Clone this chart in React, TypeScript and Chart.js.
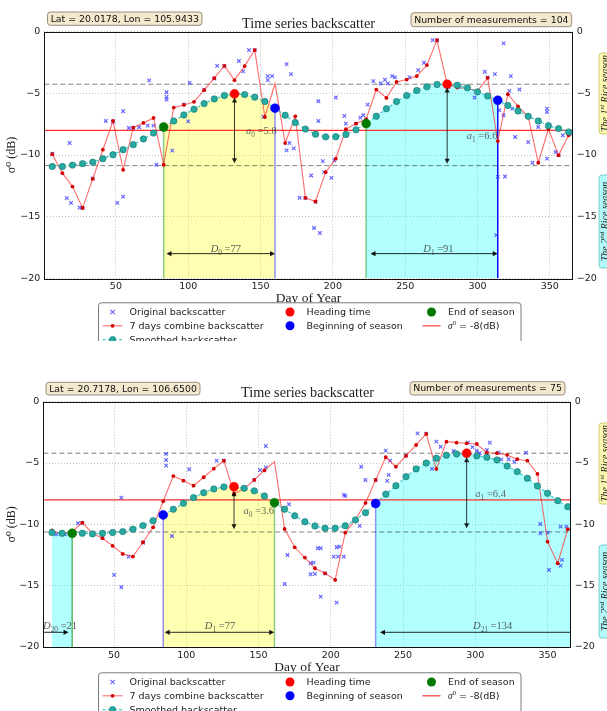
import React, { useEffect, useRef } from "react";
import { Chart, registerables } from "chart.js";

Chart.register(...registerables);

const SANS = "'DejaVu Sans', 'Noto Sans', sans-serif";
const SERIF = "'Liberation Serif', 'DejaVu Serif', serif";

// ---------- shared axis values ----------
const Y_MIN = -20;
const Y_MAX = 0;
const Y_STEP = 5;
const X_TICKS = [50, 100, 150, 200, 250, 300, 350];
const THRESHOLD_DB = -8;

const TITLE = "Time series backscatter";
const X_TITLE = "Day of Year";
const Y_TITLE = "σ⁰ (dB)";
const SEASON_TEXT_1 = ["The 1", "st", " Rice season"];
const SEASON_TEXT_2 = ["The 2", "nd", " Rice season"];
const LEGEND_LABELS = [
  "Original backscatter",
  "7 days combine backscatter",
  "Smoothed backscatter",
  "Heading time",
  "Beginning of season",
  "End of season",
  " = -8(dB)",
];

// ---------- panel A (top) ----------
const A_LAT_LON = "Lat = 20.0178, Lon = 105.9433";
const A_COUNT = "Number of measurements = 104";
const A_X_RANGE = [0.5, 365.8];
const A_DAYS = [6, 13, 20, 27, 34, 41, 48, 55, 62, 69, 76, 83, 90, 97, 104, 111, 118, 125, 132, 139, 146, 153, 160, 167, 174, 181, 188, 195, 202, 209, 216, 223, 230, 237, 244, 251, 258, 265, 272, 279, 286, 293, 300, 307, 314, 321, 328, 335, 342, 349, 356, 363];
const A_COMBINED = [-9.93, -11.47, -12.56, -14.29, -11.93, -9.57, -7.24, -11.2, -7.78, -7.4, -6.99, -10.79, -6.15, -5.94, -5.69, -4.74, -3.77, -2.77, -3.93, -2.79, -1.49, -6.92, -4.2, -9.03, -6.86, -13.47, -13.77, -11.39, -10.3, -7.9, -7.45, -7.1, -4.69, -5.37, -4.07, -3.88, -3.6, -2.71, -0.68, -4.26, -4.53, -4.61, -4.8, -3.74, -8.87, -5.07, -6.05, -6.86, -10.63, -7.89, -10.03, -8.4];
const A_SMOOTHED = [-10.93, -10.93, -10.82, -10.7, -10.58, -10.3, -9.98, -9.57, -9.16, -8.7, -8.22, -7.73, -7.24, -6.75, -6.29, -5.83, -5.45, -5.18, -5.04, -5.1, -5.31, -5.66, -6.2, -6.78, -7.37, -7.9, -8.32, -8.53, -8.52, -8.34, -7.96, -7.45, -6.86, -6.25, -5.66, -5.18, -4.77, -4.47, -4.28, -4.26, -4.34, -4.55, -4.88, -5.21, -5.56, -5.99, -6.43, -6.86, -7.24, -7.62, -7.86, -8.14];
const A_HIDDEN_DAY = 160;
const A_ORIG_DAYS = [18, 16, 19, 25, 43, 51, 55, 55, 59, 66, 72, 76, 73, 78, 85, 85, 85, 89, 101, 100, 120, 135, 138, 142, 155, 155, 158, 152, 168, 171, 168, 170, 173, 177, 185, 187, 191, 194, 199, 193, 201, 190, 208, 209, 219, 221, 224, 228, 233, 236, 238, 241, 243, 253, 259, 263, 269, 280, 287, 298, 305, 312, 318, 322, 323, 329, 315, 318, 326, 335, 324, 338, 342, 348, 348, 348, 354, 359, 364, 319, 314, 313, 202, 190, 6, 27, 34, 62, 97, 111, 118, 125, 146, 272, 307, 356, 181, 188, 216, 48];
const A_ORIG_VALUES = [-9.03, -13.5, -13.88, -14.26, -7.24, -13.88, -13.37, -6.45, -7.81, -7.75, -7.62, -7.62, -3.95, -10.79, -4.91, -5.29, -5.5, -9.65, -4.15, -7.27, -2.77, -2.38, -3.22, -1.49, -3.93, -3.6, -3.6, -6.9, -2.63, -3.44, -9.63, -9.03, -9.46, -13.47, -11.66, -15.92, -16.33, -11.39, -11.85, -10.5, -10.44, -7.24, -6.83, -7.45, -6.97, -6.78, -5.91, -4.01, -4.2, -3.9, -4.2, -3.6, -3.7, -3.71, -3.12, -2.52, -0.68, -4.47, -4.47, -5.34, -3.25, -3.44, -0.95, -4.8, -3.6, -4.69, -6.37, -6.78, -8.54, -8.95, -6.24, -10.63, -7.73, -6.24, -6.51, -10.3, -9.76, -8.4, -8.27, -11.74, -11.77, -16.5, -5.34, -5.64, -9.9, -14.3, -11.9, -7.8, -5.9, -4.7, -3.8, -2.8, -1.5, -0.7, -3.7, -10.0, -13.5, -13.8, -7.45, -7.3];
const A_HEADING_DAYS = [132, 279];
const A_HEADING_VALUES = [-5.04, -4.26];
const A_BOS_DAYS = [160, 314];
const A_BOS_VALUES = [-6.2, -5.56];
const A_EOS_DAYS = [83, 223];
const A_EOS_VALUES = [-7.73, -7.45];
const A_MAX_LEVEL = -4.26;
const A_MIN_LEVEL = -10.86;
const A_FILL_START = [83, 223];
const A_FILL_END = [160, 314];
const A_FILL_KIND = ["yellow", "cyan"];
const A_BOS_LINE_KIND = ["light", "solid"];
const A_EOS_LINE_KIND = ["light", "light"];
const A_AMP_DAYS = [132, 279];
const A_AMP_TOPS = [-5.34, -4.53];
const A_AMP_BOTTOMS = [-10.66, -10.71];
const A_AMP_INDEX = ["0", "1"];
const A_AMP_VALUES = ["5.8", "6.6"];
const A_AMP_LABEL_DAYS = [140, 292.6];
const A_AMP_LABEL_VALUES = [-8.05, -8.41];
const A_DUR_START = [85, 226];
const A_DUR_END = [160, 314];
const A_DUR_HEADS = ["both", "both"];
const A_DUR_INDEX = ["0", "1"];
const A_DUR_VALUES = ["77", "91"];
const A_DUR_LABEL_DAYS = [126, 273];
const A_DUR_Y = -18.0;
const A_DUR_LABEL_Y = -17.55;

// ---------- panel B (bottom) ----------
const B_LAT_LON = "Lat = 20.7178, Lon = 106.6500";
const B_COUNT = "Number of measurements = 75";
const B_X_RANGE = [1, 366];
const B_DAYS = [7, 14, 21, 28, 35, 42, 49, 56, 63, 70, 77, 84, 91, 98, 105, 112, 119, 126, 133, 140, 147, 154, 161, 168, 175, 182, 189, 196, 203, 210, 217, 224, 231, 238, 245, 252, 259, 266, 273, 280, 287, 294, 301, 308, 315, 322, 329, 336, 343, 350, 357, 364];
const B_COMBINED = [-10.5, -10.78, -10.6, -9.86, -10.73, -11.13, -11.76, -12.41, -12.63, -11.46, -10.24, -8.12, -6.06, -6.44, -6.85, -6.16, -5.46, -4.81, -7.5, -7.1, -6.38, -5.6, -4.9, -10.38, -11.87, -12.71, -13.58, -13.99, -14.53, -10.68, -9.6, -8.25, -6.38, -4.53, -5.3, -4.42, -3.53, -2.63, -5.48, -3.26, -3.34, -3.39, -3.45, -4.16, -4.2, -4.34, -4.69, -4.81, -5.89, -11.41, -13.17, -10.4];
const B_SMOOTHED = [-10.67, -10.73, -10.73, -10.73, -10.78, -10.73, -10.67, -10.59, -10.4, -10.1, -9.7, -9.23, -8.77, -8.28, -7.82, -7.42, -7.11, -6.95, -6.93, -7.06, -7.27, -7.69, -8.23, -8.77, -9.3, -9.79, -10.13, -10.32, -10.32, -10.12, -9.64, -9.05, -8.3, -7.54, -6.85, -6.11, -5.48, -5.0, -4.61, -4.37, -4.26, -4.2, -4.42, -4.53, -4.75, -5.24, -5.7, -6.24, -6.87, -7.47, -8.07, -8.56];
const B_HIDDEN_DAY = 161;
const B_ORIG_DAYS = [10, 16, 25, 50, 55, 60, 55, 86, 86, 86, 90, 102, 121, 155, 155, 151, 171, 168, 170, 186, 186, 188, 189, 191, 193, 193, 202, 204, 204, 205, 206, 209, 210, 209, 220, 221, 224, 238, 239, 240, 241, 260, 270, 273, 276, 285, 295, 298, 301, 303, 308, 310, 316, 322, 323, 335, 318, 327, 345, 345, 351, 359, 360, 359, 363, 350, 70, 126, 266, 196, 147, 42, 231, 28, 252];
const B_ORIG_VALUES = [-10.81, -10.81, -9.91, -14.12, -15.13, -12.63, -7.82, -4.26, -4.75, -5.21, -10.95, -5.51, -4.81, -3.61, -5.35, -5.57, -8.36, -14.86, -12.5, -14.07, -13.17, -13.12, -14.04, -11.95, -11.95, -15.89, -12.63, -11.87, -16.38, -12.63, -11.82, -12.63, -7.69, -7.6, -10.13, -5.3, -6.38, -3.99, -6.46, -5.97, -4.81, -2.58, -5.48, -3.26, -3.67, -4.02, -3.34, -3.7, -4.0, -4.2, -3.94, -3.34, -4.16, -5.3, -4.69, -4.16, -4.7, -4.9, -9.97, -10.73, -13.72, -13.37, -12.9, -10.19, -10.19, -10.68, -11.5, -4.8, -2.6, -14.0, -6.4, -11.1, -6.4, -9.9, -4.4];
const B_HEADING_DAYS = [133, 294];
const B_HEADING_VALUES = [-6.93, -4.2];
const B_BOS_DAYS = [84, 231];
const B_BOS_VALUES = [-9.23, -8.3];
const B_EOS_DAYS = [21, 161];
const B_EOS_VALUES = [-10.73, -8.23];
const B_MAX_LEVEL = -4.2;
const B_MIN_LEVEL = -10.62;
const B_FILL_START = [7, 84, 231];
const B_FILL_END = [21, 161, 366];
const B_FILL_KIND = ["cyan", "yellow", "cyan"];
const B_BOS_LINE_KIND = ["light", "light"];
const B_EOS_LINE_KIND = ["medium", "light"];
const B_AMP_DAYS = [133, 294];
const B_AMP_TOPS = [-7.3, -4.53];
const B_AMP_BOTTOMS = [-10.4, -10.32];
const B_AMP_INDEX = ["0", "1"];
const B_AMP_VALUES = ["3.6", "6.4"];
const B_AMP_LABEL_DAYS = [139.5, 300];
const B_AMP_LABEL_VALUES = [-8.9, -7.47];
const B_DUR_START = [1, 85, 234];
const B_DUR_END = [18.5, 160.8, 372];
const B_DUR_HEADS = ["end", "both", "start"];
const B_DUR_INDEX = ["20", "1", "21"];
const B_DUR_VALUES = ["21", "77", "134"];
const B_DUR_LABEL_DAYS = [12.6, 123.3, 312];
const B_DUR_Y = -18.8;
const B_DUR_LABEL_Y = -18.25;

// ---------- colours ----------
const C_ORIG = "rgba(40,40,255,0.72)";
const C_COMB_LINE = "rgba(255,30,30,0.65)";
const C_COMB_PT = "#d40000";
const C_SMOOTH_LINE = "rgba(0,190,190,0.75)";
const C_SMOOTH_PT = "#26aaa2";
const C_SMOOTH_EDGE = "#16736d";
const C_HEAD = "#ff0000";
const C_BOS = "#0000ff";
const C_EOS = "#007a00";
const FILL_COLORS: any = { yellow: "rgba(255,255,0,0.3)", cyan: "rgba(0,255,255,0.3)" };
const BOS_LINE_COLORS: any = { light: "rgba(0,0,255,0.42)", solid: "rgba(0,0,255,0.95)" };
const EOS_LINE_COLORS: any = { light: "rgba(0,140,0,0.45)", medium: "rgba(0,140,0,0.6)" };

// ---------- layout (canvas-relative positions) ----------
const LAYOUT_A = { top: 0, padTop: 31.7, leftW: 44.3, rightW: 34.3, axisH: 27.8, padBottom: 34.9, latBox: [47.5, 12, 202, 25.3], countBox: [411, 12.7, 571.7, 26.7], titleX: 308.5, titleY: 24, titleW: 133 };
const LAYOUT_B = { top: 370, padTop: 31.7, leftW: 43.3, rightW: 36.3, axisH: 28.4, padBottom: 35.6, latBox: [46, 12.3, 200, 25], countBox: [410, 11.7, 565, 25], titleX: 307.5, titleY: 23.3, titleW: 133 };
const SEASON_BOXES = [[599, 53, 616, 134], [599, 175, 616, 268]];
const SEASON_FILLS = ["#fbfab0", "#b3fbfb"];
const SEASON_STROKES = ["#c9c46a", "#6cc8c8"];
const LEGEND_BOX = [98.5, 302.8, 521, 360];
const LEGEND_ROWS = [312, 325.8, 339.6];
const LEGEND_HANDLE_X = [112.6, 290, 431.5];
const LEGEND_TEXT_X = [129.5, 306.5, 448];
const LEGEND_COL = [0, 0, 0, 1, 1, 2, 2];
const LEGEND_ROW = [0, 1, 2, 0, 1, 0, 1];
const LEGEND_KIND = ["orig", "comb", "smooth", "head", "bos", "eos", "thresh"];

const SPEC_A = {
  layout: LAYOUT_A, latLon: A_LAT_LON, count: A_COUNT, xRange: A_X_RANGE,
  days: A_DAYS, combined: A_COMBINED, smoothed: A_SMOOTHED, hiddenDay: A_HIDDEN_DAY,
  origDays: A_ORIG_DAYS, origValues: A_ORIG_VALUES,
  headDays: A_HEADING_DAYS, headValues: A_HEADING_VALUES,
  bosDays: A_BOS_DAYS, bosValues: A_BOS_VALUES, eosDays: A_EOS_DAYS, eosValues: A_EOS_VALUES,
  bosLine: A_BOS_LINE_KIND, eosLine: A_EOS_LINE_KIND,
  maxLevel: A_MAX_LEVEL, minLevel: A_MIN_LEVEL,
  fillStart: A_FILL_START, fillEnd: A_FILL_END, fillKind: A_FILL_KIND,
  ampDays: A_AMP_DAYS, ampTops: A_AMP_TOPS, ampBottoms: A_AMP_BOTTOMS, ampIndex: A_AMP_INDEX, ampValues: A_AMP_VALUES, ampLabelDays: A_AMP_LABEL_DAYS, ampLabelValues: A_AMP_LABEL_VALUES,
  durStart: A_DUR_START, durEnd: A_DUR_END, durHeads: A_DUR_HEADS, durIndex: A_DUR_INDEX, durValues: A_DUR_VALUES, durLabelDays: A_DUR_LABEL_DAYS, durY: A_DUR_Y, durLabelY: A_DUR_LABEL_Y,
};
const SPEC_B = {
  layout: LAYOUT_B, latLon: B_LAT_LON, count: B_COUNT, xRange: B_X_RANGE,
  days: B_DAYS, combined: B_COMBINED, smoothed: B_SMOOTHED, hiddenDay: B_HIDDEN_DAY,
  origDays: B_ORIG_DAYS, origValues: B_ORIG_VALUES,
  headDays: B_HEADING_DAYS, headValues: B_HEADING_VALUES,
  bosDays: B_BOS_DAYS, bosValues: B_BOS_VALUES, eosDays: B_EOS_DAYS, eosValues: B_EOS_VALUES,
  bosLine: B_BOS_LINE_KIND, eosLine: B_EOS_LINE_KIND,
  maxLevel: B_MAX_LEVEL, minLevel: B_MIN_LEVEL,
  fillStart: B_FILL_START, fillEnd: B_FILL_END, fillKind: B_FILL_KIND,
  ampDays: B_AMP_DAYS, ampTops: B_AMP_TOPS, ampBottoms: B_AMP_BOTTOMS, ampIndex: B_AMP_INDEX, ampValues: B_AMP_VALUES, ampLabelDays: B_AMP_LABEL_DAYS, ampLabelValues: B_AMP_LABEL_VALUES,
  durStart: B_DUR_START, durEnd: B_DUR_END, durHeads: B_DUR_HEADS, durIndex: B_DUR_INDEX, durValues: B_DUR_VALUES, durLabelDays: B_DUR_LABEL_DAYS, durY: B_DUR_Y, durLabelY: B_DUR_LABEL_Y,
};

// ---------- drawing helpers ----------
type Run = { t: string; it?: boolean; sub?: boolean; sup?: boolean; fam?: string };

function runFont(r: Run, size: number, fam: string) {
  const s = r.sub || r.sup ? size * 0.7 : size;
  return `${r.it ? "italic " : ""}${s}px ${r.fam || fam}`;
}

function drawRuns(ctx: any, runs: Run[], x: number, baseline: number, size: number, align: string, color: string, fam: string) {
  const widths: number[] = [];
  let total = 0;
  runs.forEach((r) => {
    ctx.font = runFont(r, size, fam);
    const w = ctx.measureText(r.t).width;
    widths.push(w);
    total += w;
  });
  let cx = align === "center" ? x - total / 2 : align === "right" ? x - total : x;
  ctx.fillStyle = color;
  ctx.textAlign = "left";
  ctx.textBaseline = "alphabetic";
  runs.forEach((r, i) => {
    ctx.font = runFont(r, size, fam);
    const dy = r.sub ? size * 0.28 : r.sup ? -size * 0.4 : 0;
    ctx.fillText(r.t, cx, baseline + dy);
    cx += widths[i];
  });
}

function roundRect(ctx: any, x: number, y: number, w: number, h: number, r: number) {
  ctx.beginPath();
  ctx.moveTo(x + r, y);
  ctx.lineTo(x + w - r, y);
  ctx.quadraticCurveTo(x + w, y, x + w, y + r);
  ctx.lineTo(x + w, y + h - r);
  ctx.quadraticCurveTo(x + w, y + h, x + w - r, y + h);
  ctx.lineTo(x + r, y + h);
  ctx.quadraticCurveTo(x, y + h, x, y + h - r);
  ctx.lineTo(x, y + r);
  ctx.quadraticCurveTo(x, y, x + r, y);
  ctx.closePath();
}

function head(ctx: any, x: number, y: number, ux: number, uy: number) {
  const hl = 5, hw = 2.6;
  ctx.beginPath();
  ctx.moveTo(x, y);
  ctx.lineTo(x - ux * hl - uy * hw, y - uy * hl + ux * hw);
  ctx.lineTo(x - ux * hl + uy * hw, y - uy * hl - ux * hw);
  ctx.closePath();
  ctx.fill();
}

function arrow(ctx: any, x1: number, y1: number, x2: number, y2: number, startHead: boolean, endHead: boolean) {
  const len = Math.hypot(x2 - x1, y2 - y1) || 1;
  const ux = (x2 - x1) / len, uy = (y2 - y1) / len;
  ctx.beginPath();
  ctx.moveTo(x1 + (startHead ? ux * 3 : 0), y1 + (startHead ? uy * 3 : 0));
  ctx.lineTo(x2 - (endHead ? ux * 3 : 0), y2 - (endHead ? uy * 3 : 0));
  ctx.stroke();
  if (endHead) head(ctx, x2, y2, ux, uy);
  if (startHead) head(ctx, x1, y1, -ux, -uy);
}

function fittedTextBox(ctx: any, text: string, box: number[]) {
  const [l, t, r, b] = box;
  ctx.font = `10px ${SANS}`;
  const w10 = ctx.measureText(text).width;
  let size = (10 * (r - l - 6)) / w10;
  size = Math.min(size, (b - t) * 0.78);
  ctx.fillStyle = "#f4e8cf";
  ctx.strokeStyle = "#8c8272";
  ctx.lineWidth = 0.9;
  roundRect(ctx, l, t, r - l, b - t, 3);
  ctx.fill();
  ctx.stroke();
  ctx.font = `${size}px ${SANS}`;
  ctx.fillStyle = "#111";
  ctx.textAlign = "center";
  ctx.textBaseline = "middle";
  ctx.fillText(text, (l + r) / 2, (t + b) / 2 + 0.5);
}

function dot(ctx: any, x: number, y: number, r: number, fill: string, stroke?: string) {
  ctx.beginPath();
  ctx.arc(x, y, r, 0, Math.PI * 2);
  ctx.fillStyle = fill;
  ctx.fill();
  if (stroke) {
    ctx.strokeStyle = stroke;
    ctx.lineWidth = 0.6;
    ctx.stroke();
  }
}

function drawLegend(ctx: any) {
  const [l, t, r, b] = LEGEND_BOX;
  ctx.save();
  ctx.fillStyle = "#ffffff";
  ctx.strokeStyle = "#7a7a7a";
  ctx.lineWidth = 1;
  roundRect(ctx, l, t, r - l, b - t, 3);
  ctx.fill();
  ctx.stroke();
  LEGEND_KIND.forEach((kind, i) => {
    const y = LEGEND_ROWS[LEGEND_ROW[i]];
    const hx = LEGEND_HANDLE_X[LEGEND_COL[i]];
    const tx = LEGEND_TEXT_X[LEGEND_COL[i]];
    ctx.setLineDash([]);
    if (kind === "orig") {
      ctx.strokeStyle = C_ORIG;
      ctx.lineWidth = 1.1;
      ctx.beginPath();
      ctx.moveTo(hx - 2.2, y - 2.2); ctx.lineTo(hx + 2.2, y + 2.2);
      ctx.moveTo(hx - 2.2, y + 2.2); ctx.lineTo(hx + 2.2, y - 2.2);
      ctx.stroke();
    } else if (kind === "comb") {
      ctx.strokeStyle = C_COMB_LINE; ctx.lineWidth = 1.1;
      ctx.beginPath(); ctx.moveTo(hx - 10, y); ctx.lineTo(hx + 10, y); ctx.stroke();
      dot(ctx, hx, y, 1.9, C_COMB_PT);
    } else if (kind === "smooth") {
      ctx.strokeStyle = C_SMOOTH_LINE; ctx.lineWidth = 1.2; ctx.setLineDash([3, 2.5]);
      ctx.beginPath(); ctx.moveTo(hx - 10, y); ctx.lineTo(hx + 10, y); ctx.stroke();
      ctx.setLineDash([]);
      dot(ctx, hx, y, 3.2, C_SMOOTH_PT, C_SMOOTH_EDGE);
    } else if (kind === "head") {
      dot(ctx, hx, y, 4.5, C_HEAD);
    } else if (kind === "bos") {
      dot(ctx, hx, y, 4.5, C_BOS);
    } else if (kind === "eos") {
      dot(ctx, hx, y, 4.5, C_EOS);
    } else if (kind === "thresh") {
      ctx.strokeStyle = "rgba(255,40,40,0.85)"; ctx.lineWidth = 1.3;
      ctx.beginPath(); ctx.moveTo(hx - 9, y); ctx.lineTo(hx + 9, y); ctx.stroke();
    }
    if (kind === "thresh") {
      drawRuns(ctx, [{ t: "σ", it: true, fam: SERIF }, { t: "0", sup: true, fam: SERIF }, { t: LEGEND_LABELS[i] }], tx, y + 3.4, 9.5, "left", "#222", SANS);
    } else {
      ctx.font = `9.5px ${SANS}`;
      ctx.fillStyle = "#222";
      ctx.textAlign = "left";
      ctx.textBaseline = "middle";
      ctx.fillText(LEGEND_LABELS[i], tx, y + 0.5);
    }
  });
  ctx.restore();
}

function drawSeasonBoxes(ctx: any) {
  const texts = [SEASON_TEXT_1, SEASON_TEXT_2];
  SEASON_BOXES.forEach((bx, i) => {
    const [l, t, r, b] = bx;
    ctx.save();
    ctx.rotate(-Math.PI / 2);
    // local (lx, ly) = (-pageY, pageX)
    ctx.fillStyle = SEASON_FILLS[i];
    ctx.strokeStyle = SEASON_STROKES[i];
    ctx.lineWidth = 0.9;
    roundRect(ctx, -b, l, b - t, r - l, 3);
    ctx.fill();
    ctx.stroke();
    const tx = texts[i];
    drawRuns(ctx, [{ t: tx[0], it: true }, { t: tx[1], it: true, sup: true }, { t: tx[2], it: true }], -(t + b) / 2, l + 9.3, 10, "center", "#222", SERIF);
    ctx.restore();
  });
}

function makeDecor(spec: any) {
  return {
    id: "decor",
    afterDraw(chart: any) {
      const ctx = chart.ctx;
      const ca = chart.chartArea;
      const xs = chart.scales.x;
      const ys = chart.scales.y;
      const X = (v: number) => xs.getPixelForValue(v);
      const Y = (v: number) => ys.getPixelForValue(v);
      const L = spec.layout;
      ctx.save();

      // amplitude arrows and labels
      ctx.lineWidth = 1;
      spec.ampDays.forEach((d: number, i: number) => {
        ctx.strokeStyle = "rgba(0,0,0,0.78)";
        ctx.fillStyle = "rgba(0,0,0,0.85)";
        arrow(ctx, X(d), Y(spec.ampTops[i]), X(d), Y(spec.ampBottoms[i]), true, true);
        drawRuns(
          ctx,
          [{ t: "a", it: true }, { t: spec.ampIndex[i], sub: true }, { t: " =" + spec.ampValues[i] }],
          X(spec.ampLabelDays[i]), Y(spec.ampLabelValues[i]) + 3.5, 10.5, "left", "rgba(60,60,60,0.8)", SERIF
        );
      });

      // duration arrows and labels
      ctx.save();
      ctx.beginPath();
      ctx.rect(ca.left, ca.top, ca.right - ca.left, ca.bottom - ca.top);
      ctx.clip();
      spec.durStart.forEach((s: number, i: number) => {
        const h = spec.durHeads[i];
        ctx.strokeStyle = "rgba(0,0,0,0.85)";
        ctx.fillStyle = "rgba(0,0,0,0.9)";
        ctx.lineWidth = 1;
        arrow(ctx, X(s), Y(spec.durY), X(spec.durEnd[i]), Y(spec.durY), h === "both" || h === "start", h === "both" || h === "end");
        drawRuns(
          ctx,
          [{ t: "D", it: true }, { t: spec.durIndex[i], sub: true }, { t: " =" + spec.durValues[i] }],
          X(spec.durLabelDays[i]), Y(spec.durLabelY) + 3.5, 10.5, "center", "rgba(60,60,60,0.85)", SERIF
        );
      });
      ctx.restore();

      // frame
      ctx.strokeStyle = "#111";
      ctx.lineWidth = 1;
      ctx.setLineDash([]);
      ctx.strokeRect(Math.round(ca.left) + 0.5, Math.round(ca.top) + 0.5, Math.round(ca.right - ca.left), Math.round(ca.bottom - ca.top));

      // title
      ctx.font = `13px ${SERIF}`;
      const w13 = ctx.measureText(TITLE).width;
      const ts = (13 * L.titleW) / w13;
      ctx.font = `${ts}px ${SERIF}`;
      ctx.fillStyle = "#222";
      ctx.textAlign = "center";
      ctx.textBaseline = "middle";
      ctx.fillText(TITLE, L.titleX, L.titleY);

      // info boxes
      fittedTextBox(ctx, spec.latLon, L.latBox);
      fittedTextBox(ctx, spec.count, L.countBox);

      drawSeasonBoxes(ctx);
      drawLegend(ctx);
      ctx.restore();
    },
  };
}

function fmtY(v: any) {
  const n = Number(v);
  return n < 0 ? "\u2212" + Math.abs(n) : String(n);
}

function buildConfig(spec: any): any {
  const L = spec.layout;
  const [xMin, xMax] = spec.xRange;
  const pts = (xs: number[], ys: number[]) => xs.map((x, i) => ({ x, y: ys[i] }));
  const datasets: any[] = [];

  spec.fillStart.forEach((s: number, i: number) => {
    const e = spec.fillEnd[i];
    const data = pts(spec.days, spec.smoothed).filter((p) => p.x >= s && p.x <= e);
    const last = data[data.length - 1];
    if (last && last.x < e) data.push({ x: e, y: last.y });
    datasets.push({
      type: "line", data, fill: { value: Y_MIN }, backgroundColor: FILL_COLORS[spec.fillKind[i]],
      borderWidth: 0, borderColor: "rgba(0,0,0,0)", pointRadius: 0, order: 30,
    });
  });

  const levelLine = (v: number, color: string, width: number, dash: number[], order: number) => ({
    type: "line", data: [{ x: xMin, y: v }, { x: xMax, y: v }], borderColor: color, borderWidth: width,
    borderDash: dash, pointRadius: 0, fill: false, order,
  });
  datasets.push(levelLine(spec.maxLevel, "rgba(0,0,0,0.55)", 0.9, [5, 3], 28));
  datasets.push(levelLine(spec.minLevel, "rgba(0,0,0,0.55)", 0.9, [5, 3], 28));
  datasets.push(levelLine(THRESHOLD_DB, "rgba(255,25,25,0.9)", 1.3, [], 27));

  spec.eosDays.forEach((d: number, i: number) => {
    datasets.push({
      type: "line", data: [{ x: d, y: spec.eosValues[i] }, { x: d, y: Y_MIN }],
      borderColor: EOS_LINE_COLORS[spec.eosLine[i]], borderWidth: 1.5, pointRadius: 0, fill: false, order: 26,
    });
  });
  spec.bosDays.forEach((d: number, i: number) => {
    datasets.push({
      type: "line", data: [{ x: d, y: spec.bosValues[i] }, { x: d, y: Y_MIN }],
      borderColor: BOS_LINE_COLORS[spec.bosLine[i]], borderWidth: 1.5, pointRadius: 0, fill: false, order: 26,
    });
  });

  datasets.push({
    type: "line", data: pts(spec.origDays, spec.origValues), showLine: false,
    pointStyle: "crossRot", pointRadius: 2.5, pointBorderColor: C_ORIG, pointBackgroundColor: C_ORIG,
    pointBorderWidth: 1.15, order: 20,
  });
  datasets.push({
    type: "line", data: pts(spec.days, spec.combined), borderColor: C_COMB_LINE, borderWidth: 1.1,
    pointRadius: spec.days.map((d: number) => (d === spec.hiddenDay ? 0 : 1.9)),
    pointBackgroundColor: C_COMB_PT, pointBorderColor: C_COMB_PT, pointBorderWidth: 0, fill: false, order: 19,
  });
  datasets.push({
    type: "line", data: pts(spec.days, spec.smoothed), borderColor: C_SMOOTH_LINE, borderWidth: 1.2,
    borderDash: [3, 2.5], pointRadius: 3.2, pointBackgroundColor: C_SMOOTH_PT, pointBorderColor: C_SMOOTH_EDGE,
    pointBorderWidth: 0.6, fill: false, order: 18,
  });
  const markers = (xs: number[], ys: number[], color: string, order: number) => ({
    type: "line", data: pts(xs, ys), showLine: false, pointRadius: 4.5, pointBackgroundColor: color,
    pointBorderColor: color, pointBorderWidth: 0.5, order,
  });
  datasets.push(markers(spec.headDays, spec.headValues, C_HEAD, 3));
  datasets.push(markers(spec.bosDays, spec.bosValues, C_BOS, 2));
  datasets.push(markers(spec.eosDays, spec.eosValues, C_EOS, 1));

  const tickFont = { family: SANS, size: 9.5 };
  const gridOpts = { color: "#b3b3b3", lineWidth: 0.8, drawTicks: false, borderDash: [1, 2] };
  return {
    type: "line",
    data: { datasets },
    options: {
      animation: false,
      responsive: false,
      devicePixelRatio: 1,
      layout: { padding: { top: L.padTop, left: 0, right: 0, bottom: L.padBottom } },
      plugins: { legend: { display: false }, tooltip: { enabled: false } },
      scales: {
        x: {
          type: "linear", min: xMin, max: xMax,
          afterBuildTicks: (s: any) => { s.ticks = X_TICKS.map((v) => ({ value: v })); },
          afterFit: (s: any) => { s.height = L.axisH; },
          ticks: { font: tickFont, color: "#222", padding: 3, maxRotation: 0, autoSkip: false, callback: (v: any) => String(v) },
          grid: gridOpts,
          border: { display: false, dash: [1, 2] },
          title: { display: true, text: X_TITLE, font: { family: SERIF, size: 13.5 }, color: "#222", padding: 0 },
        },
        y: {
          type: "linear", position: "left", min: Y_MIN, max: Y_MAX,
          afterFit: (s: any) => { s.width = L.leftW; },
          ticks: { stepSize: Y_STEP, font: tickFont, color: "#222", padding: 4, callback: fmtY },
          grid: gridOpts,
          border: { display: false, dash: [1, 2] },
          title: { display: true, text: Y_TITLE, font: { family: SERIF, size: 12 }, color: "#222", padding: { top: 5, bottom: 0 } },
        },
        y2: {
          type: "linear", position: "right", min: Y_MIN, max: Y_MAX, display: true,
          afterFit: (s: any) => { s.width = L.rightW; },
          ticks: { stepSize: Y_STEP, font: tickFont, color: "#222", padding: 4, callback: fmtY },
          grid: { display: false, drawTicks: false },
          border: { display: false },
        },
      },
    },
    plugins: [makeDecor(spec)],
  };
}

function Panel({ spec }: { spec: any }) {
  const ref = useRef<HTMLCanvasElement | null>(null);
  useEffect(() => {
    const canvas = ref.current;
    if (!canvas) return;
    const chart = new Chart(canvas, buildConfig(spec));
    return () => chart.destroy();
  }, [spec]);
  return (
    <canvas
      ref={ref}
      width={607}
      height={341}
      style={{ position: "absolute", left: 0, top: spec.layout.top, width: 607, height: 341, display: "block" }}
    />
  );
}

export default function App() {
  return (
    <div style={{ position: "absolute", left: 0, top: 0, width: 607, height: 711, background: "#ffffff", overflow: "hidden" }}>
      <Panel spec={SPEC_A} />
      <Panel spec={SPEC_B} />
    </div>
  );
}
